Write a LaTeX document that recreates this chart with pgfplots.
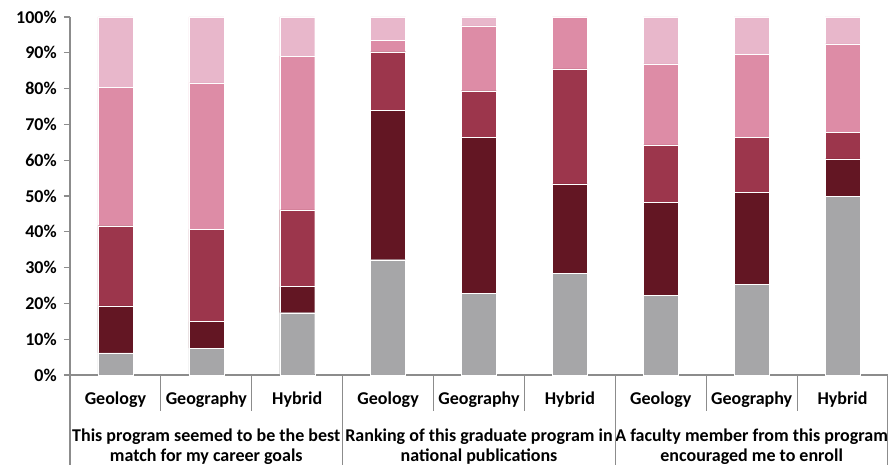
\documentclass[border=0pt]{standalone}
\usepackage{pgfplots}
\pgfplotsset{compat=1.18}
\usepackage{fontspec}
\setmainfont{Carlito}

\definecolor{cgrey}{HTML}{A6A6A8}
\definecolor{cdark}{HTML}{631623}
\definecolor{cred}{HTML}{9C364C}
\definecolor{cpink}{HTML}{DD8CA6}
\definecolor{clight}{HTML}{E8B7CB}
\definecolor{axgray}{HTML}{8C8C8C}

\newcommand\lbl{\fontsize{13.5}{15}\selectfont\bfseries}

\begin{document}
\begin{tikzpicture}
\begin{axis}[
    scale only axis,
    width=613.5pt, height=268.5pt,
    ybar stacked, bar width=26.25pt,
    xmin=-0.5, xmax=8.5,
    ymin=0, ymax=100,
    axis x line*=bottom, axis y line*=left,
    axis line style={axgray, line width=0.8pt},
    xtick=\empty,
    ytick={0,10,...,100},
    tick align=outside,
    major tick length=4.5pt,
    tick style={axgray, line width=0.8pt},
    yticklabel={\lbl\pgfmathprintnumber[assume math mode=true]{\tick}\%},
    yticklabel style={xshift=-2pt},
    clip=false,
    every axis plot/.append style={draw=white, line width=0.3pt},
]
\addplot[fill=cgrey] coordinates {(0,6.2)(1,7.5)(2,17.4)(3,32.2)(4,22.9)(5,28.4)(6,22.3)(7,25.3)(8,49.9)};
\addplot[fill=cdark] coordinates {(0,13.1)(1,7.5)(2,7.3)(3,41.7)(4,43.5)(5,25.0)(6,25.9)(7,25.7)(8,10.5)};
\addplot[fill=cred] coordinates {(0,22.4)(1,25.7)(2,21.4)(3,16.4)(4,13.0)(5,32.1)(6,16.1)(7,15.3)(8,7.3)};
\addplot[fill=cpink] coordinates {(0,38.6)(1,40.9)(2,43.0)(3,3.1)(4,18.1)(5,14.5)(6,22.6)(7,23.2)(8,24.8)};
\addplot[fill=clight] coordinates {(0,19.7)(1,18.4)(2,10.9)(3,6.6)(4,2.5)(5,0)(6,13.1)(7,10.5)(8,7.5)};

\pgfplotsinvokeforeach{0.5,1.5,3.5,4.5,6.5,7.5}{
  \draw[axgray, line width=0.8pt] (axis cs:#1,0) -- ++(0pt,-27pt);
}
\pgfplotsinvokeforeach{-0.5,2.5,5.5,8.5}{
  \draw[axgray, line width=0.8pt] (axis cs:#1,0) -- ++(0pt,-70pt);
}
\pgfplotsinvokeforeach{0,3,6}{
  \node[font=\lbl] at (axis cs:#1,0) [yshift=-18.5pt] {Geology};
}
\pgfplotsinvokeforeach{1,4,7}{
  \node[font=\lbl] at (axis cs:#1,0) [yshift=-18.5pt] {Geography};
}
\pgfplotsinvokeforeach{2,5,8}{
  \node[font=\lbl] at (axis cs:#1,0) [yshift=-18.5pt] {Hybrid};
}
\node[font=\lbl, align=center] at (axis cs:1,0) [yshift=-53.5pt] {This program seemed to be the best\\match for my career goals};
\node[font=\lbl, align=center] at (axis cs:4,0) [yshift=-53.5pt] {Ranking of this graduate program in\\national publications};
\node[font=\lbl, align=center] at (axis cs:7,0) [yshift=-53.5pt] {A faculty member from this program\\encouraged me to enroll};
\end{axis}
\pgfresetboundingbox
\path (-52.5pt,-66.75pt) rectangle (613.5pt,281.25pt);
\end{tikzpicture}
\end{document}
